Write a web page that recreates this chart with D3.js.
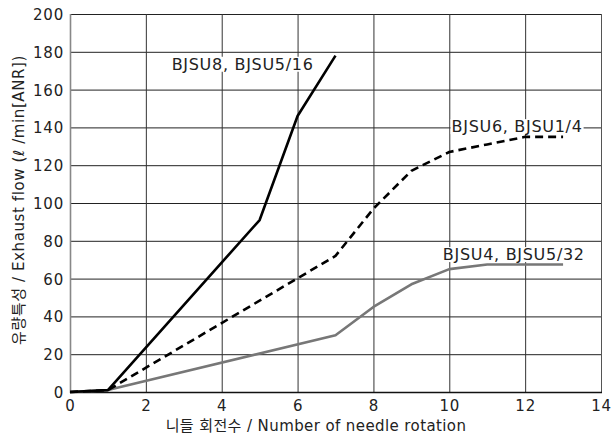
<!DOCTYPE html>
<html>
<head>
<meta charset="utf-8">
<script src="https://cdn.jsdelivr.net/npm/d3@7"></script>
<style>
  body { margin: 0; background: #fff; }
  text { font-family: "DejaVu Sans", "Noto Sans CJK KR", sans-serif; fill: #222; }
</style>
</head>
<body>
<svg id="chart" width="611" height="443"></svg>
<script>
// 데이터
const xTicks = [0, 2, 4, 6, 8, 10, 12, 14];
const yTicks = [0, 20, 40, 60, 80, 100, 120, 140, 160, 180, 200];

const rotBJSU8 = [0, 1, 5, 6, 7];
const flowBJSU8 = [0, 1, 91, 146, 178];

const rotBJSU6 = [0, 1, 7, 8, 9, 10, 11, 12, 13];
const flowBJSU6 = [0, 1, 72, 97, 117, 127, 131, 135, 135];

const rotBJSU4 = [0, 1, 7, 8, 9, 10, 11, 12, 13];
const flowBJSU4 = [0, 1, 30, 45, 57, 65, 67.5, 67.5, 67.5];

const seriesNames = ['BJSU8, BJSU5/16', 'BJSU6, BJSU1/4', 'BJSU4, BJSU5/32'];
// 라벨 위치 (데이터 좌표)
const labelAt = [[2.68, 170.5], [10.06, 137.5], [9.83, 69.8]];

const xTitle = '니들 회전수 / Number of needle rotation';
const yTitle = '유량특성 / Exhaust flow (ℓ /min[ANR])';

const svg = d3.select('#chart');
const plotLeft = 70, plotRight = 601, plotTop = 14, plotBottom = 392;

const x = d3.scaleLinear().domain([0, 14]).range([plotLeft, plotRight]);
const y = d3.scaleLinear().domain([0, 200]).range([plotBottom, plotTop]);

// 그리드 (축 tickSize 로 그림)
const gridY = svg.append('g').attr('class', 'grid-y')
  .attr('transform', `translate(${plotLeft}, 0)`)
  .call(d3.axisLeft(y).tickValues(yTicks.filter(d => d > 0)).tickSize(-(plotRight - plotLeft)).tickFormat(''));
gridY.select('.domain').remove();
gridY.selectAll('line').attr('stroke', '#222').attr('stroke-width', 1);

const gridX = svg.append('g').attr('class', 'grid-x')
  .attr('transform', `translate(0, ${plotBottom})`)
  .call(d3.axisBottom(x).tickValues(xTicks.filter(d => d > 0)).tickSize(-(plotBottom - plotTop)).tickFormat(''));
gridX.select('.domain').remove();
gridX.selectAll('line').attr('stroke', d => d === 14 ? '#555' : '#333').attr('stroke-width', 1);

// 축선
svg.append('line')
  .attr('x1', plotLeft + 0.5).attr('x2', plotLeft + 0.5).attr('y1', plotTop).attr('y2', plotBottom + 1)
  .attr('stroke', '#888').attr('stroke-width', 1.6);
svg.append('line')
  .attr('x1', plotLeft).attr('x2', plotRight + 1).attr('y1', plotBottom + 0.5).attr('y2', plotBottom + 0.5)
  .attr('stroke', '#111').attr('stroke-width', 1.4);

// 눈금 라벨
const xAxis = d3.axisBottom(x).tickValues(xTicks).tickSize(0).tickPadding(8);
const gx = svg.append('g').attr('transform', `translate(0, ${plotBottom})`).call(xAxis);
gx.select('.domain').remove();
gx.selectAll('text').style('font-size', '15px').attr('letter-spacing', 0.8).attr('dy', '0.75em');

const yAxis = d3.axisLeft(y).tickValues(yTicks).tickSize(0).tickPadding(6);
const gy = svg.append('g').attr('transform', `translate(${plotLeft}, 0)`).call(yAxis);
gy.select('.domain').remove();
gy.selectAll('text').style('font-size', '15px').attr('letter-spacing', 0.8).attr('dy', '0.36em');
gx.selectAll('text').attr('fill', '#222');
gy.selectAll('text').attr('fill', '#222');

// 라벨 배경 (흰색)
const labels = svg.append('g');
const labelBg = labels.selectAll('rect').data(seriesNames).enter().append('rect').attr('fill', '#fff');

// 선
const line = d3.line().x(d => x(d[0])).y(d => y(d[1]));
const series = [
  { xs: rotBJSU8, ys: flowBJSU8, color: '#000', dash: null },
  { xs: rotBJSU6, ys: flowBJSU6, color: '#000', dash: '8,5' },
  { xs: rotBJSU4, ys: flowBJSU4, color: '#777', dash: null }
];
// 회색선 먼저, 그다음 검은선
[2, 1, 0].forEach(i => {
  const s = series[i];
  svg.append('path')
    .datum(d3.zip(s.xs, s.ys))
    .attr('d', line)
    .attr('fill', 'none')
    .attr('stroke', s.color)
    .attr('stroke-width', 2.6)
    .attr('stroke-linejoin', 'round')
    .attr('stroke-dasharray', s.dash);
});

// 라벨 텍스트
const labelText = svg.append('g').selectAll('text').data(seriesNames).enter()
  .append('text')
  .text(d => d)
  .attr('x', (d, i) => x(labelAt[i][0]))
  .attr('y', (d, i) => y(labelAt[i][1]))
  .style('font-size', '16px')
  .attr('letter-spacing', 0.7);

labelText.each(function(d, i) {
  const b = this.getBBox();
  labelBg.filter((e, j) => j === i)
    .attr('x', b.x - 1).attr('y', b.y + 2)
    .attr('width', b.width + 2).attr('height', b.height - 4);
});

// 축 제목
svg.append('text')
  .text(xTitle)
  .attr('x', 316).attr('y', 431)
  .attr('text-anchor', 'middle')
  .attr('letter-spacing', 0.4)
  .style('font-size', '15px');

svg.append('text')
  .text(yTitle)
  .attr('transform', 'translate(24, 200) rotate(-90)')
  .attr('text-anchor', 'middle')
  .attr('letter-spacing', 0.6)
  .style('font-size', '15px');
</script>
</body>
</html>
